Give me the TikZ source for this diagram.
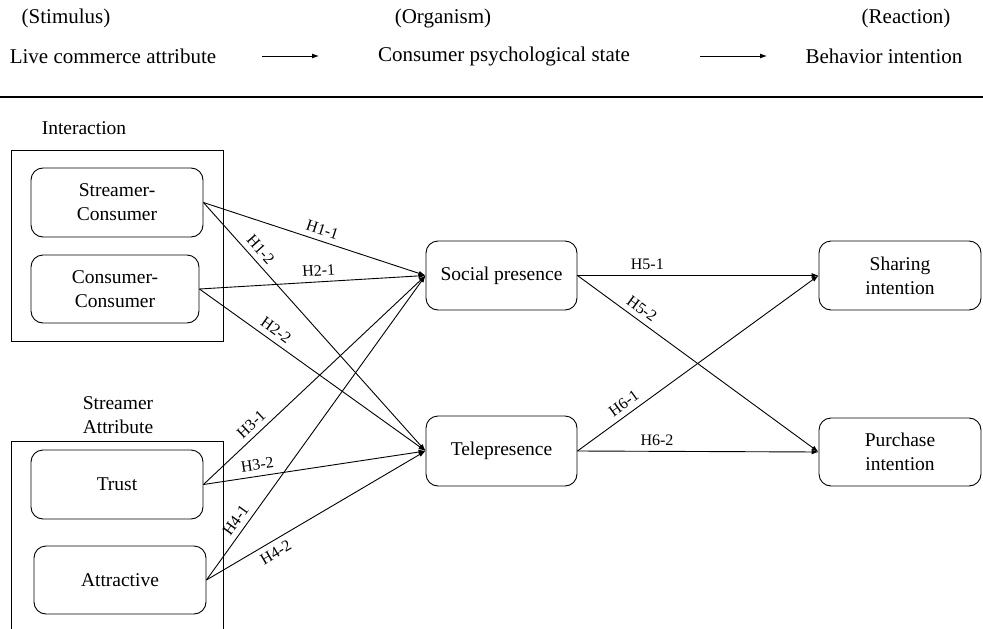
\documentclass[tikz,border=0pt]{standalone}
\usepackage{fontspec}
\setmainfont{Liberation Serif}
\usetikzlibrary{arrows.meta}
\begin{document}
\begin{tikzpicture}[x=1pt,y=-1pt,
  lw/.style={line width=0.9pt},
  box/.style={draw, lw, rounded corners=12pt, align=center, inner sep=0pt,
    font=\rmfamily\fontsize{19.5}{24}\selectfont},
  head/.style={font=\rmfamily\fontsize{21}{25}\selectfont, inner sep=0pt},
  grp/.style={font=\rmfamily\fontsize{19.5}{24}\selectfont, align=center, inner sep=0pt},
  arr/.style={lw, -{Latex[length=7pt,width=5pt]}},
  hl/.style={font=\rmfamily\fontsize{16}{18}\selectfont, inner sep=5.5pt, sloped}]
\useasboundingbox (0,0) rectangle (983,629);

% header
\node[head] (st) at (66,18) {(Stimulus)};
\node[head] (og) at (443,18) {(Organism)};
\node[head] (re) at (906,18) {(Reaction)};
\node[head] (hs) at (113,56) {Live commerce attribute};
\node[head] (ho) at (504,56) {Consumer psychological state};
\node[head] (hr) at (884,56) {Behavior intention};
\coordinate (a1s) at (262,56);
\coordinate (a1e) at (319,56);
\coordinate (a2s) at (700,56);
\coordinate (a2e) at (767,56);
\draw[arr] (a1s) -- (a1e);
\draw[arr] (a2s) -- (a2e);
\coordinate (r1) at (0,97);
\coordinate (r2) at (983,97);
\draw[line width=2pt] (r1) -- (r2);

% groups
\node[grp] (gl1) at (84,128) {Interaction};
\node[draw, lw, minimum width=212, minimum height=191, inner sep=0pt] (g1) at (117,245.5) {};
\node[grp] (gl2) at (118,415) {Streamer\\Attribute};
\draw[lw] (11,629) -- (11,441) -- (223,441) -- (223,629);

% boxes
\node[box, minimum width=172, minimum height=69] (sc) at (117,202.5) {Streamer-\\Consumer};
\node[box, minimum width=168, minimum height=68] (cc) at (115,289) {Consumer-\\Consumer};
\node[box, minimum width=172, minimum height=69] (tr) at (117,484.5) {Trust};
\node[box, minimum width=172, minimum height=68] (at) at (120,580) {Attractive};
\node[box, minimum width=151, minimum height=69] (sp) at (501.5,275.5) {Social presence};
\node[box, minimum width=151, minimum height=70] (tp) at (501.5,451) {Telepresence};
\node[box, minimum width=162, minimum height=69] (si) at (900,275.5) {Sharing\\intention};
\node[box, minimum width=162, minimum height=68] (pi) at (900,452) {Purchase\\intention};

% connectors
\draw[arr] (sc.east) -- node[hl, pos=0.52, above] {H1-1} (sp.west);
\draw[arr] (sc.east) -- node[hl, pos=0.22, above] {H1-2} (tp.west);
\draw[arr] (cc.east) -- node[hl, pos=0.53, above] {H2-1} (sp.west);
\draw[arr] (cc.east) -- node[hl, pos=0.31, above] {H2-2} (tp.west);
\draw[arr] (tr.east) -- node[hl, pos=0.25, above] {H3-1} (sp.west);
\draw[arr] (tr.east) -- node[hl, pos=0.25, above] {H3-2} (tp.west);
\draw[arr] (at.east) -- node[hl, pos=0.175, above] {H4-1} (sp.west);
\draw[arr] (at.east) -- node[hl, pos=0.29, below] {H4-2} (tp.west);
\draw[arr] (sp.east) -- node[hl, pos=0.29, above] {H5-1} (si.west);
\draw[arr] (sp.east) -- node[hl, pos=0.24, above] {H5-2} (pi.west);
\draw[arr] (tp.east) -- node[hl, pos=0.22, above] {H6-1} (si.west);
\draw[arr] (tp.east) -- node[hl, pos=0.33, above] {H6-2} (pi.west);
\end{tikzpicture}
\end{document}
